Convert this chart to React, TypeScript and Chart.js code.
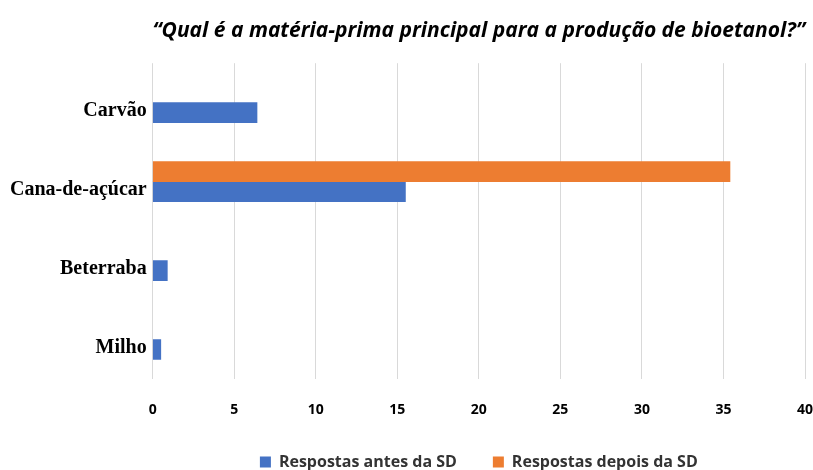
import React, { useEffect, useRef } from "react";
import { Chart, registerables } from "chart.js";

Chart.register(...registerables);

const categories = ["Carvão", "Cana-de-açúcar", "Beterraba", "Milho"];
const antes = [6.4, 15.5, 0.9, 0.5];
const depois = [null, 35.4, null, null];
const xTicks = [0, 5, 10, 15, 20, 25, 30, 35, 40];
const seriesNames = ["Respostas antes da SD", "Respostas depois da SD"];
const titleText = "“Qual é a matéria-prima principal para a produção de bioetanol?”";

export default function App() {
  const ref = useRef<HTMLCanvasElement | null>(null);
  useEffect(() => {
    if (!ref.current) return;
    const chart = new Chart(ref.current, {
      type: "bar",
      data: {
        labels: categories,
        datasets: [
          {
            label: seriesNames[1],
            data: depois,
            backgroundColor: "#ED7D31",
            borderWidth: 0,
            barThickness: 20,
          },
          {
            label: seriesNames[0],
            data: antes,
            backgroundColor: "#4472C4",
            borderWidth: 0,
            barThickness: 20,
          },
        ],
      },
      options: {
        indexAxis: "y",
        animation: false,
        responsive: false,
        maintainAspectRatio: false,
        layout: { padding: { left: 4, right: 8, top: 8, bottom: 0 } },
        plugins: {
          title: {
            display: true,
            text: titleText,
            align: "end",
            color: "#000",
            font: { family: "'Open Sans'", size: 21, style: "italic", weight: "bold" },
            padding: { top: 10, bottom: 20 },
          },
          legend: {
            position: "bottom",
            reverse: true,
            fullSize: false,
            maxHeight: 52,
            labels: {
              boxWidth: 11,
              boxHeight: 11,
              padding: 36,
              color: "#333",
              font: { family: "'Open Sans'", size: 16, weight: "bold" },
            },
          },
          tooltip: { enabled: false },
        },
        scales: {
          x: {
            min: 0,
            max: 40,
            afterBuildTicks: (axis: any) => {
              axis.ticks = xTicks.map((v) => ({ value: v }));
            },
            afterFit: (axis: any) => {
              axis.paddingRight = 3;
              axis.height = 39;
            },
            grid: { color: "#d9d9d9", drawTicks: false, lineWidth: 1 },
            border: { display: false },
            ticks: {
              color: "#000",
              padding: 23,
              font: { family: "'Open Sans'", size: 14, weight: "bold" },
            },
          },
          y: {
            grid: { display: false, drawTicks: false },
            border: { display: false },
            ticks: {
              color: "#000",
              padding: 6,
              labelOffset: 8,
              font: { family: "'Liberation Serif'", size: 20, weight: "bold" },
            },
          },
        },
      },
    });
    return () => chart.destroy();
  }, []);
  return (
    <div style={{ position: "fixed", left: 0, top: 0, width: 813, height: 470, background: "#fff" }}>
      <canvas ref={ref} width={813} height={470} style={{ width: 813, height: 470 }} />
    </div>
  );
}
